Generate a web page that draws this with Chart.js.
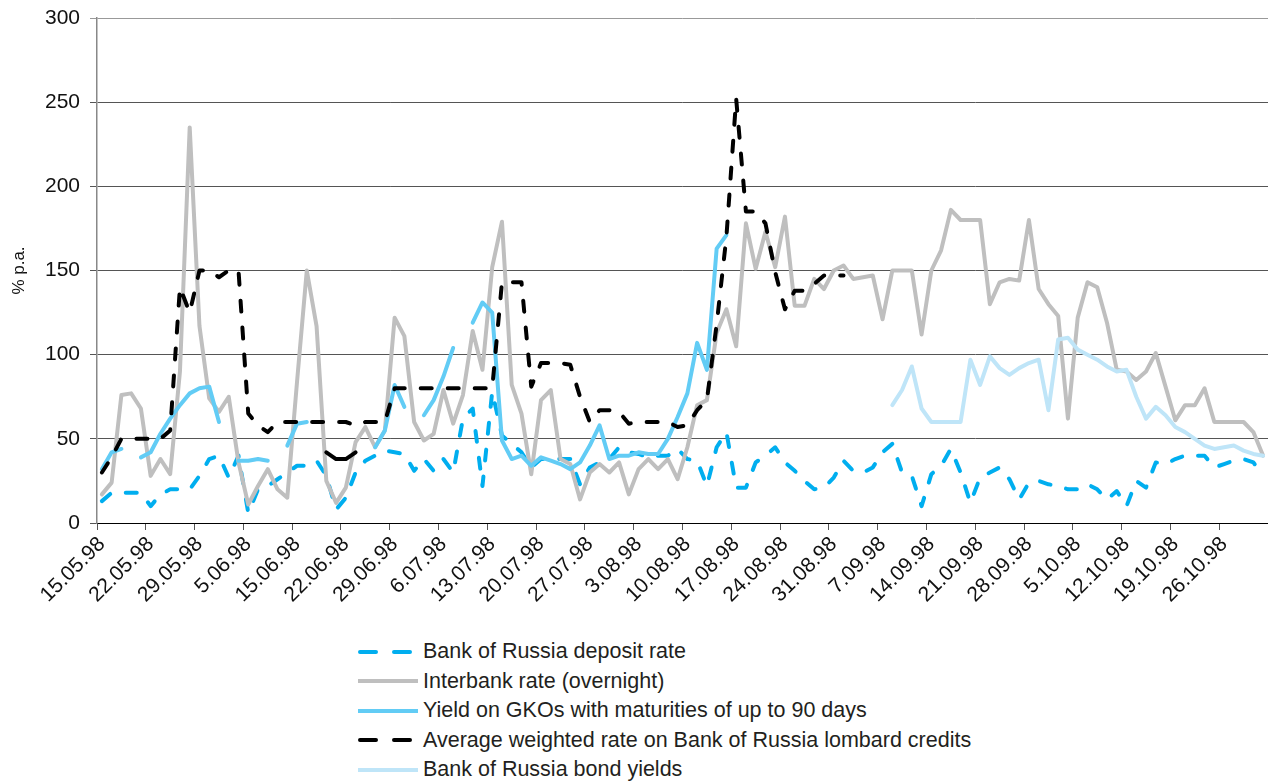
<!DOCTYPE html>
<html>
<head>
<meta charset="utf-8">
<script src="https://cdn.jsdelivr.net/npm/chart.js@4"></script>
<style>
  body { margin: 0; background: #fff; }
  #wrap { position: relative; width: 1268px; height: 783px; }
  #legend { position: absolute; left: 356px; top: 637px; font-family: "Liberation Sans", Arial, sans-serif; font-size: 21.5px; color: #231f20; }
  .row { height: 29.5px; display: flex; align-items: center; }
  .row svg { width: 64px; height: 10px; margin-right: 3px; }
</style>
</head>
<body>
<div id="wrap">
  <canvas id="myChart" width="1268" height="625"></canvas>
  <div id="legend"></div>
</div>
<script>
// business days, 15.05.98 - 30.10.98
const categories = [
  '15.05.98', '18.05.98', '19.05.98', '20.05.98', '21.05.98', '22.05.98', '25.05.98', '26.05.98', '27.05.98', '28.05.98',
  '29.05.98', '1.06.98', '2.06.98', '3.06.98', '4.06.98', '5.06.98', '8.06.98', '9.06.98', '10.06.98', '11.06.98',
  '15.06.98', '16.06.98', '17.06.98', '18.06.98', '19.06.98', '22.06.98', '23.06.98', '24.06.98', '25.06.98', '26.06.98',
  '29.06.98', '30.06.98', '1.07.98', '2.07.98', '3.07.98', '6.07.98', '7.07.98', '8.07.98', '9.07.98', '10.07.98',
  '13.07.98', '14.07.98', '15.07.98', '16.07.98', '17.07.98', '20.07.98', '21.07.98', '22.07.98', '23.07.98', '24.07.98',
  '27.07.98', '28.07.98', '29.07.98', '30.07.98', '31.07.98', '3.08.98', '4.08.98', '5.08.98', '6.08.98', '7.08.98',
  '10.08.98', '11.08.98', '12.08.98', '13.08.98', '14.08.98', '17.08.98', '18.08.98', '19.08.98', '20.08.98', '21.08.98',
  '24.08.98', '25.08.98', '26.08.98', '27.08.98', '28.08.98', '31.08.98', '1.09.98', '2.09.98', '3.09.98', '4.09.98',
  '7.09.98', '8.09.98', '9.09.98', '10.09.98', '11.09.98', '14.09.98', '15.09.98', '16.09.98', '17.09.98', '18.09.98',
  '21.09.98', '22.09.98', '23.09.98', '24.09.98', '25.09.98', '28.09.98', '29.09.98', '30.09.98', '1.10.98', '2.10.98',
  '5.10.98', '6.10.98', '7.10.98', '8.10.98', '9.10.98', '12.10.98', '13.10.98', '14.10.98', '15.10.98', '16.10.98',
  '19.10.98', '20.10.98', '21.10.98', '22.10.98', '23.10.98', '26.10.98', '27.10.98', '28.10.98', '29.10.98', '30.10.98'
];

const yTicks = [0, 50, 100, 150, 200, 250, 300];

const depositRate = [
  13, 18, 18, 18, 18, 10, 17, 20, 20, 20,
  28, 38, 40, 27, 40, 6, 20, 22, 26, 30,
  34, 34, 37, 28, 8, 15, 30, 37, 40, 43,
  42, 41, 31, 38, 31, 38, 30, 62, 68, 22,
  78, 52, 47, 42, 33, 38, 38, 38, 38, 23,
  33, 36, 38, 45, 42, 41, 39, 40, 40, 44,
  38, 37, 22, 45, 54, 21, 21, 36, 40, 45,
  36, 31, 25, 20, 21, 27, 37, 31, 30, 33,
  42, 47, 30, 28, 10, 29, 34, 44, 30, 12,
  27, 30, 33, 26, 14, 24, 25, 23, 22, 20,
  20, 23, 20, 14, 19, 10, 25, 21, 36, 35,
  38, 40, 40, 40, 33, 35, 37, 38, 36, 28
];

const interbankRate = [
  17, 24, 76, 77, 68, 28, 38, 29, 90, 235,
  117, 74, 66, 75, 36, 11, 22, 32, 20, 15,
  84, 150, 117, 25, 12, 21, 48, 57, 45, 55,
  122, 111, 60, 49, 53, 79, 59, 76, 114, 91,
  152, 179, 82, 65, 29, 73, 79, 38, 35, 14,
  30, 35, 30, 36, 17, 32, 38, 32, 38, 26,
  45, 70, 73, 113, 127, 105, 178, 151, 173, 152,
  182, 129, 129, 145, 139, 150, 153, 145, 146, 147,
  121, 150, 150, 150, 112, 150, 162, 186, 180, 180,
  180, 130, 143, 145, 144, 180, 139, 130, 123, 62,
  122, 143, 140, 119, 91, 90, 85, 90, 101, 81,
  61, 70, 70, 80, 60, 60, 60, 60, 54, 40
];

const gkoYield = [
  32, 42, 44, null, 39, 42, 53, 62, 70, 77,
  80, 81, 60, null, 37, 37, 38, 37, null, 46,
  59, 60, null, null, null, null, null, null, 45, 55,
  82, 69, null, 64, 73, 87, 104, null, 119, 131,
  125, 49, 38, 40, 34, 39, 37, 35, 32, 36,
  46, 58, 38, 40, 40, 42, 41, 41, 50, 63,
  77, 107, 91, 163, 171, null, null, null, null, null,
  null, null, null, null, null, null, null, null, null, null,
  null, null, null, null, null, null, null, null, null, null,
  null, null, null, null, null, null, null, null, null, null,
  null, null, null, null, null, null, null, null, null, null,
  null, null, null, null, null, null, null, null, null, null
];

const lombardRate = [
  30, 39, 50, 50, 50, 50, 50, 55, 140, 125,
  150, 150, 146, 150, 150, 65, 58, 54, 60, 60,
  60, 60, 60, 60, 60, 60, 58, 60, 60, 60,
  80, 80, 80, 80, 80, 80, 80, 80, 80, 80,
  80, 143, 143, 143, 81, 95, 95, 95, 94, 75,
  60, 67, 67, 66, 59, 60, 60, 60, 60, 57,
  58, 67, 73, 118, 170, 252, 185, 185, 178, 149,
  127, 138, 138, 142, 147, 147, 147, null, null, null,
  null, null, null, null, null, null, null, null, null, null,
  null, null, null, null, null, null, null, null, null, null,
  null, null, null, null, null, null, null, null, null, null,
  null, null, null, null, null, null, null, null, null, null
];

// short solid black piece under the lombard line (22-26.06)
const lombardLow = categories.map(() => null);
lombardLow[23] = 42; lombardLow[24] = 38; lombardLow[25] = 38; lombardLow[26] = 42;

const bondYield = [
  null, null, null, null, null, null, null, null, null, null,
  null, null, null, null, null, null, null, null, null, null,
  null, null, null, null, null, null, null, null, null, null,
  null, null, null, null, null, null, null, null, null, null,
  null, null, null, null, null, null, null, null, null, null,
  null, null, null, null, null, null, null, null, null, null,
  null, null, null, null, null, null, null, null, null, null,
  null, null, null, null, null, null, null, null, null, null,
  null, 70, 79, 93, 68, 60, 60, 60, 60, 97,
  82, 99, 92, 88, 92, 95, 97, 67, 109, 110,
  103, 100, 97, 93, 90, 91, 75, 62, 69, 64,
  57, 54, 50, 46, 44, 45, 46, 43, 41, 40
];

const FONT = '"Liberation Sans", Arial, sans-serif';
const CANVAS_H = 625;
const DASH = [11, 16];

const series = [
  { label: 'Bank of Russia deposit rate', data: depositRate, color: '#00aeef', dash: DASH, order: 5 },
  { label: 'Interbank rate (overnight)', data: interbankRate, color: '#bfbfbf', dash: [], order: 4 },
  { label: 'Yield on GKOs with maturities of up to 90 days', data: gkoYield, color: '#62ccf5', dash: [], order: 3 },
  { label: 'Average weighted rate on Bank of Russia lombard credits', data: lombardRate, color: '#000000', dash: DASH, order: 2 },
  { label: 'Bank of Russia bond yields', data: bondYield, color: '#bfe5f8', dash: [], order: 1 }
];

const datasets = series.map(s => ({
  label: s.label,
  data: s.data,
  borderColor: s.color,
  borderDash: s.dash,
  order: s.order
}));
datasets.push({ label: '', data: lombardLow, borderColor: '#000000', borderDash: [], order: 2 });

const ctx = document.getElementById('myChart').getContext('2d');
new Chart(ctx, {
  type: 'line',
  data: { labels: categories, datasets: datasets },
  options: {
    responsive: false,
    animation: false,
    layout: { padding: { top: 18, left: 0, right: 0, bottom: 0 } },
    plugins: { legend: { display: false }, tooltip: { enabled: false } },
    elements: {
      point: { radius: 0 },
      line: { tension: 0, borderWidth: 4, borderCapStyle: 'round', borderJoinStyle: 'round', fill: false }
    },
    scales: {
      x: {
        offset: true,
        grid: {
          offset: true,
          drawOnChartArea: false,
          tickLength: 7,
          tickColor: c => c.index % 5 === 0 ? '#555' : 'rgba(0,0,0,0)'
        },
        border: { color: '#000', width: 1 },
        ticks: {
          autoSkip: false,
          minRotation: 45,
          maxRotation: 45,
          padding: 2,
          color: '#111',
          font: { family: FONT, size: 21 },
          callback: (v, i) => i % 5 === 0 ? categories[i] : ''
        },
        afterFit: s => { s.height = CANVAS_H - 523; s.paddingLeft = 0; s.paddingRight = 0; }
      },
      y: {
        min: yTicks[0],
        max: yTicks[yTicks.length - 1],
        afterBuildTicks: s => { s.ticks = yTicks.map(v => ({ value: v })); },
        grid: { color: c => c.tick && c.tick.value === 300 ? '#999' : '#555', lineWidth: 1, drawTicks: true, tickLength: 7 },
        border: { color: '#888', width: 1.5 },
        ticks: { padding: 10, color: '#111', font: { family: FONT, size: 21 } },
        title: { display: true, text: '% p.a.', color: '#111', font: { family: FONT, size: 17 }, padding: { top: 9, bottom: 0 } },
        afterFit: s => { s.width = 97; s.paddingTop = 0; s.paddingBottom = 0; }
      }
    }
  }
});

// legend, one entry per row
const legend = document.getElementById('legend');
series.forEach(s => {
  const row = document.createElement('div');
  row.className = 'row';
  const dashed = s.dash.length > 0;
  const stroke = dashed ? ' stroke-dasharray="16 18" stroke-linecap="round"' : '';
  row.innerHTML = '<svg viewBox="0 0 64 10"><line x1="' + (dashed ? 4 : 2) + '" y1="5" x2="62" y2="5" stroke="' +
    s.color + '" stroke-width="4"' + stroke + '/></svg><span>' + s.label + '</span>';
  legend.appendChild(row);
});
</script>
</body>
</html>
